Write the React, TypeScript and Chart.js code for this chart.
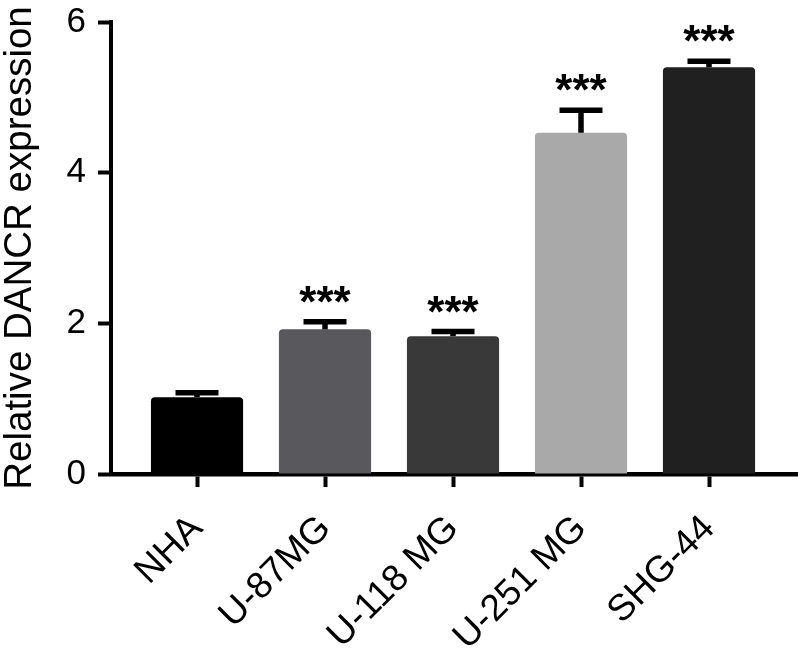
import React, { useEffect, useRef } from 'react';
import { Chart, registerables } from 'chart.js';

Chart.register(...registerables);

const categories = ['NHA', 'U-87MG', 'U-118 MG', 'U-251 MG', 'SHG-44'];
const means = [1.02, 1.92, 1.83, 4.53, 5.40];
const errors = [0.06, 0.10, 0.06, 0.30, 0.08];
const significance = ['', '***', '***', '***', '***'];
const barColors = ['#000000', '#59595d', '#393939', '#a9a9a9', '#202020'];
const yTicks = [0, 2, 4, 6];
const yTitle = 'Relative DANCR expression';

const FONT = '"Liberation Sans", Arial, Helvetica, sans-serif';

const errorBarPlugin = {
  id: 'errorBars',
  afterDatasetsDraw(chart: any) {
    const ctx = chart.ctx;
    const xs = chart.scales.x;
    const ys = chart.scales.y;
    ctx.save();
    ctx.strokeStyle = '#000';
    ctx.fillStyle = '#000';
    ctx.lineWidth = 5.5;
    ctx.lineCap = 'butt';
    means.forEach((m, i) => {
      const x = xs.getPixelForValue(i);
      const yBar = ys.getPixelForValue(m);
      const yTop = ys.getPixelForValue(m + errors[i]);
      ctx.beginPath();
      ctx.moveTo(x, yBar);
      ctx.lineTo(x, yTop);
      ctx.stroke();
      ctx.beginPath();
      ctx.moveTo(x - 21.5, yTop);
      ctx.lineTo(x + 21.5, yTop);
      ctx.stroke();
      if (significance[i]) {
        ctx.font = `bold 44px ${FONT}`;
        ctx.textAlign = 'center';
        ctx.textBaseline = 'alphabetic';
        ctx.fillText(significance[i], x, yTop - 5);
      }
    });
    ctx.restore();
  },
};

export default function App() {
  const ref = useRef<HTMLCanvasElement | null>(null);
  useEffect(() => {
    if (!ref.current) return;
    const chart = new Chart(ref.current, {
      type: 'bar',
      data: {
        datasets: [
          {
            data: means.map((m, i) => ({ x: i, y: m })),
            backgroundColor: barColors,
            borderWidth: 0,
            borderRadius: { topLeft: 4, topRight: 4, bottomLeft: 0, bottomRight: 0 },
            borderSkipped: false,
            barPercentage: 0.72,
            categoryPercentage: 1,
          },
        ],
      },
      options: {
        responsive: false,
        animation: false,
        layout: { padding: { top: 0, right: 5, left: 0, bottom: 0 } },
        plugins: { legend: { display: false }, tooltip: { enabled: false } },
        scales: {
          x: {
            type: 'linear',
            offset: false,
            min: -0.672,
            max: 4.6875,
            afterBuildTicks: (scale: any) => {
              scale.ticks = categories.map((_, i) => ({ value: i }));
            },
            afterFit: (scale: any) => {
              scale.height = 181;
            },
            border: { display: true, color: '#000', width: 4.5 },
            grid: {
              offset: false,
              drawOnChartArea: false,
              drawTicks: true,
              tickLength: 13,
              tickWidth: 4,
              tickColor: '#000',
            },
            ticks: {
              autoSkip: false,
              maxRotation: 45,
              minRotation: 45,
              padding: 20,
              color: '#000',
              font: { family: FONT, size: 37 },
              callback: (v: any) => categories[v] ?? '',
            },
          },
          y: {
            min: 0,
            max: 6,
            afterBuildTicks: (scale: any) => {
              scale.ticks = yTicks.map((v) => ({ value: v }));
            },
            afterFit: (scale: any) => {
              scale.width = 111;
              scale.paddingTop = 22;
              scale.paddingBottom = 0;
            },
            border: { display: true, color: '#000', width: 4 },
            grid: {
              drawOnChartArea: false,
              drawTicks: true,
              tickLength: 13,
              tickWidth: 4,
              tickColor: '#000',
            },
            ticks: {
              padding: 12,
              color: '#000',
              font: { family: FONT, size: 35 },
            },
            title: {
              display: true,
              text: yTitle,
              color: '#000',
              font: { family: FONT, size: 38.5, lineHeight: 1.05 },
              padding: { top: 0, bottom: 0 },
            },
          },
        },
      },
      plugins: [errorBarPlugin],
    } as any);
    return () => chart.destroy();
  }, []);
  return (
    <div style={{ position: 'absolute', left: 0, top: 0, width: 802, height: 655, background: '#fff' }}>
      <canvas ref={ref} width={802} height={655} />
    </div>
  );
}
